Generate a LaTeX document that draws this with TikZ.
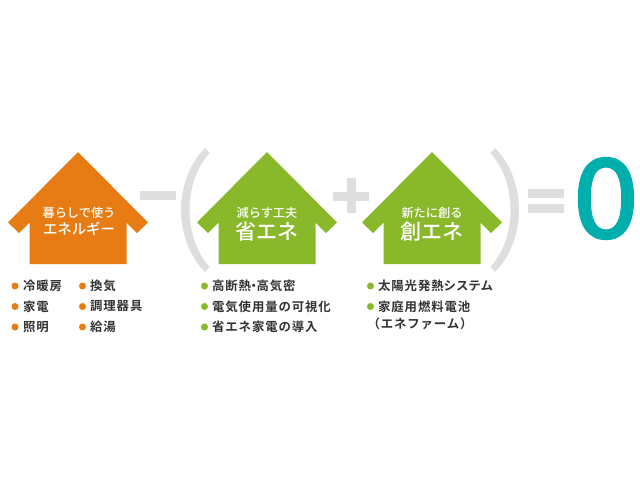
\documentclass[tikz,border=0pt]{standalone}
\usepackage{fontspec}
\setmainfont{Noto Sans CJK JP}[BoldFont={Noto Sans CJK JP Bold}]
\newfontfamily\medfont{Noto Sans CJK JP Medium}
\newfontfamily\zerofont{DejaVu Sans}[FakeBold=2.2]
\definecolor{myorange}{HTML}{E67C13}
\definecolor{mygreen}{HTML}{8AB82B}
\definecolor{mygray}{HTML}{DEDEDE}
\definecolor{myteal}{HTML}{00AEAB}
\newcommand{\fsz}[1]{\fontsize{#1}{#1}\selectfont}
\tikzset{
  x=1pt,y=-1pt,
  small/.style={white,inner sep=0,anchor=center,font={\medfont\fsz{12.2}}},
  mid/.style={white,inner sep=0,anchor=center,font={\medfont\fsz{14.4}}},
  big/.style={white,inner sep=0,anchor=center,font={\medfont\fsz{21}}},
  item/.style={inner sep=0,anchor=west,text=black!80,font={\fsz{12.4}\bfseries\addfontfeature{LetterSpace=7}}},
  dotO/.style={circle,fill=myorange,inner sep=0,minimum size=7pt},
  dotG/.style={circle,fill=mygreen,inner sep=0,minimum size=7pt},
}
\newcommand{\house}[2]{% centre x, colour
  \fill[#2] (#1,152) -- (#1+70,222.5) -- (#1+59,233) -- (#1+48.5,222.5) -- (#1+48.5,264)
    -- (#1-48.5,264) -- (#1-48.5,222.5) -- (#1-59,233) -- (#1-70,222.5) -- cycle;
}
\begin{document}
\begin{tikzpicture}
\useasboundingbox (0,0) rectangle (640,480);
\fill[white] (0,0) rectangle (640,480);
\house{78}{myorange}
\house{267}{mygreen}
\house{432}{mygreen}
% operators
\fill[mygray] (140,191) rectangle (176,200);
\fill[mygray] (333,192) rectangle (369,201);
\fill[mygray] (347,178) rectangle (356,213);
\fill[mygray] (528,189) rectangle (564,198);
\fill[mygray] (528,204) rectangle (564,213);
% parentheses
\fill[mygray] (205,148) .. controls (190,163) and (181,186) .. (181,210)
  .. controls (181,234) and (190,257) .. (205,272) -- (209.5,267)
  .. controls (197,253) and (189.5,233) .. (189.5,210)
  .. controls (189.5,187) and (197,167) .. (209.5,153) -- cycle;
\fill[mygray] (495,148) .. controls (510,163) and (519,186) .. (519,210)
  .. controls (519,234) and (510,257) .. (495,272) -- (490.5,267)
  .. controls (503,253) and (510.5,233) .. (510.5,210)
  .. controls (510.5,187) and (503,167) .. (490.5,153) -- cycle;
\node[inner sep=0,text=myteal,font={\zerofont\fsz{107}}] (zero) at (606,198.5) {0};
% house labels
\node[small] (h1a) at (79,213) {暮らしで使う};
\node[mid] (h1b) at (79,229) {エネルギー};
\node[small] (h2a) at (267,212.5) {減らす工夫};
\node[big] (h2b) at (267,232) {省エネ};
\node[small] (h3a) at (432,212.5) {新たに創る};
\node[big] (h3b) at (432,232) {創エネ};
% lists
\node[dotO] (b1) at (15,286) {}; \node[item] (t1) at (23,286) {冷暖房};
\node[dotO] (b2) at (15,306.5) {}; \node[item] (t2) at (23,306.5) {家電};
\node[dotO] (b3) at (15,327) {}; \node[item] (t3) at (23,327) {照明};
\node[dotO] (b4) at (82.5,286) {}; \node[item] (t4) at (90,286) {換気};
\node[dotO] (b5) at (82.5,306.5) {}; \node[item] (t5) at (90,306.5) {調理器具};
\node[dotO] (b6) at (82.5,327) {}; \node[item] (t6) at (90,327) {給湯};
\node[dotG] (b7) at (204.5,286) {}; \node[item] (t7) at (212,286) {高断熱\kern-3.5pt・\kern-3.5pt高気密};
\node[dotG] (b8) at (204.5,306.5) {}; \node[item] (t8) at (212,306.5) {電気使用量の可視化};
\node[dotG] (b9) at (204.5,327) {}; \node[item] (t9) at (212,327) {省エネ家電の導入};
\node[dotG] (b10) at (370.5,286) {}; \node[item] (t10) at (378,286) {太陽光発熱{\addfontfeature{LetterSpace=0}システム}};
\node[dotG] (b11) at (370.5,306.5) {}; \node[item] (t11) at (378,306.5) {家庭用燃料電池};
\node[item,anchor=center] (t12) at (420,323.5) {（エネファーム）};
\end{tikzpicture}
\end{document}
